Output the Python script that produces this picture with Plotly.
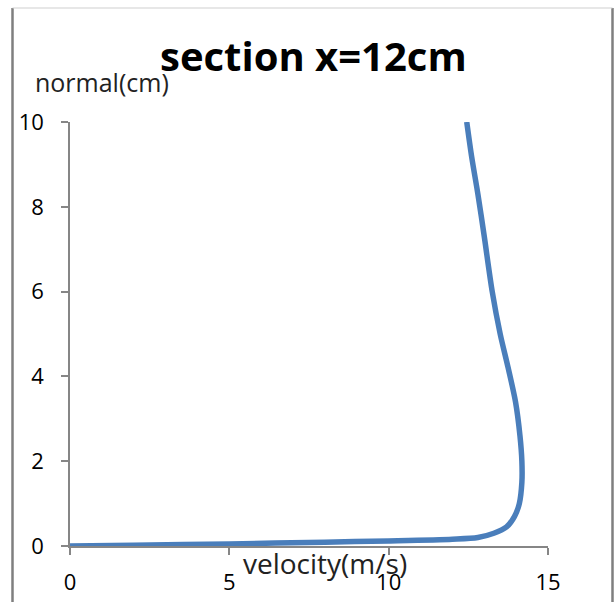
import plotly.graph_objects as go

# velocity (m/s) and normal distance (cm)
velocity = [0, 2, 5, 8, 10, 12, 12.8, 13.3, 13.7, 13.95, 14.1, 14.18, 14.18,
            14.12, 13.98, 13.75, 13.5, 13.25, 13.0, 12.8, 12.6, 12.45]
normal = [0, 0.02, 0.05, 0.09, 0.12, 0.16, 0.2, 0.3, 0.45, 0.7, 1.0, 1.5, 2.0,
          2.6, 3.4, 4.2, 5.0, 6.0, 7.3, 8.3, 9.2, 10]
x_ticks = [0, 5, 10, 15]
y_ticks = [0, 2, 4, 6, 8, 10]

W, H = 616, 602
# plot area in page pixels: x 70..548, y 122..546
L, R, T, B = 70, 616 - 548, 122, 602 - 546
pw, ph = W - L - R, H - T - B


def px(x):  # page pixel -> paper x
    return (x - L) / pw


def py(y):  # page pixel -> paper y
    return (H - B - y) / ph


fig = go.Figure()
fig.add_trace(go.Scatter(x=velocity, y=normal, mode="lines",
                         line=dict(color="#4A7EBB", width=5.5, shape="spline", smoothing=0.8),
                         hoverinfo="skip", showlegend=False))

axis_common = dict(showgrid=False, zeroline=False, showline=True, linecolor="#868686",
                   linewidth=1.5, ticks="outside", tickcolor="#868686", ticklen=7,
                   tickwidth=1.5, automargin=False,
                   tickfont=dict(family="Open Sans", size=22, color="#000"))
fig.update_xaxes(range=[0, 15], tickvals=x_ticks, ticklabelstandoff=9, **axis_common)
fig.update_yaxes(range=[0, 10], tickvals=y_ticks, ticklabelstandoff=13, **axis_common)

fig.add_annotation(text="<b>section x=12cm</b>", x=px(313), y=py(56), xref="paper", yref="paper",
                   showarrow=False, font=dict(family="Open Sans", size=40, color="#000"),
                   xanchor="center", yanchor="middle")
fig.add_annotation(text="normal(cm)", x=px(102), y=py(82), xref="paper", yref="paper",
                   showarrow=False, font=dict(family="Open Sans", size=25, color="#222"),
                   xanchor="center", yanchor="middle")
fig.add_annotation(text="velocity(m/s)", x=px(325), y=py(563), xref="paper", yref="paper",
                   showarrow=False, font=dict(family="Open Sans", size=28, color="#222"),
                   xanchor="center", yanchor="middle")

# outer chart border
fig.add_shape(type="line", xref="paper", yref="paper", x0=px(12.5), x1=px(12.5), y0=py(8), y1=py(640),
              line=dict(color="#7f7f7f", width=2.5))
fig.add_shape(type="line", xref="paper", yref="paper", x0=px(612.5), x1=px(612.5), y0=py(8), y1=py(640),
              line=dict(color="#7f7f7f", width=2.5))
fig.add_shape(type="line", xref="paper", yref="paper", x0=px(12.5), x1=px(612.5), y0=py(8), y1=py(8),
              line=dict(color="#cfcfcf", width=1))

fig.update_layout(width=W, height=H, margin=dict(l=L, r=R, t=T, b=B, autoexpand=False),
                  paper_bgcolor="white", plot_bgcolor="white")
fig.write_html("out.html", config={"displayModeBar": False},
               post_script="document.body.style.margin='0';document.body.style.overflow='hidden';")
